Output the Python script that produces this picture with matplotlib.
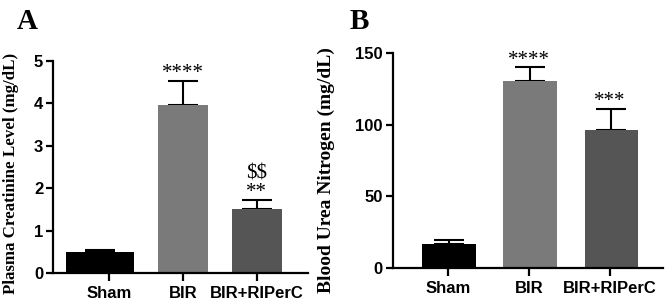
import numpy as np
import matplotlib.pyplot as plt

# Data
groups = ["Sham", "BIR", "BIR+RIPerC"]
creatinine = [0.49, 3.96, 1.52]
creatinine_err = [0.05, 0.56, 0.20]
creatinine_marks = ["", "****", "**"]
creatinine_marks2 = ["", "", "$$"]
bun = [16.7, 130.2, 96.5]
bun_err = [2.6, 9.8, 14.4]
bun_marks = ["", "****", "***"]

colors = ["#000000", "#7a7a7a", "#555555"]

plt.rcParams['font.family'] = ['Liberation Sans', 'DejaVu Sans']
serif = 'Liberation Serif'

fig = plt.figure(figsize=(6.69, 3.03), dpi=100)
axA = fig.add_axes([0.079, 0.099, 0.381, 0.70])
axB = fig.add_axes([0.587, 0.115, 0.404, 0.71])


def style(ax):
    for s in ["top", "right"]:
        ax.spines[s].set_visible(False)
    for s in ["left", "bottom"]:
        ax.spines[s].set_linewidth(1.6)
    ax.tick_params(axis="y", width=1.6, length=5, labelsize=12, pad=2)
    ax.tick_params(axis="x", width=1.6, length=6, labelsize=12, pad=3)
    for lab in ax.get_xticklabels() + ax.get_yticklabels():
        lab.set_fontweight("bold")


def bars(ax, vals, errs, widths, offs):
    x = np.arange(len(vals))
    ax.bar(x + np.array(offs), vals, width=widths, color=colors, zorder=2)
    ax.errorbar(x + np.array(offs), vals, yerr=[np.zeros(len(vals)), errs],
                fmt="none", ecolor="black", elinewidth=1.5, capsize=11,
                capthick=1.5, zorder=1)
    ax.set_xticks(x)
    ax.set_xticklabels(groups)
    return x


# Panel A
x = bars(axA, creatinine, creatinine_err, [0.92, 0.68, 0.68], [-0.12, 0, 0])
axA.set_xlim(-0.757, 2.69)
axA.set_ylim(0, 5)
axA.set_yticks(range(6))
axA.set_ylabel("Plasma Creatinine Level (mg/dL)", family=serif,
               fontweight="bold", fontsize=12.2)
axA.yaxis.set_label_coords(-0.133, 0.47)
for i in range(3):
    top = creatinine[i] + creatinine_err[i]
    if creatinine_marks[i]:
        axA.text(x[i], top - 0.05, creatinine_marks[i], ha="center", va="bottom",
                 family=serif, fontsize=15)
    if creatinine_marks2[i]:
        axA.text(x[i], top + 0.40, creatinine_marks2[i], ha="center", va="bottom",
                 family=serif, fontsize=15, parse_math=False)
style(axA)

# Panel B
x = bars(axB, bun, bun_err, [0.66, 0.66, 0.66], [0.015, 0.015, 0.015])
axB.set_xlim(-0.68, 2.65)
axB.set_ylim(0, 150)
axB.set_yticks([0, 50, 100, 150])
axB.set_ylabel("Blood Urea Nitrogen (mg/dL)", family=serif,
               fontweight="bold", fontsize=14)
axB.yaxis.set_label_coords(-0.215, 0.456)
for i in range(3):
    top = bun[i] + bun_err[i]
    if bun_marks[i]:
        axB.text(x[i], top - 1.5, bun_marks[i], ha="center", va="bottom",
                 family=serif, fontsize=15)
style(axB)

fig.text(0.025, 0.905, "A", family=serif, fontweight="bold", fontsize=21)
fig.text(0.522, 0.905, "B", family=serif, fontweight="bold", fontsize=21)

fig.savefig("out.png", dpi=100)
